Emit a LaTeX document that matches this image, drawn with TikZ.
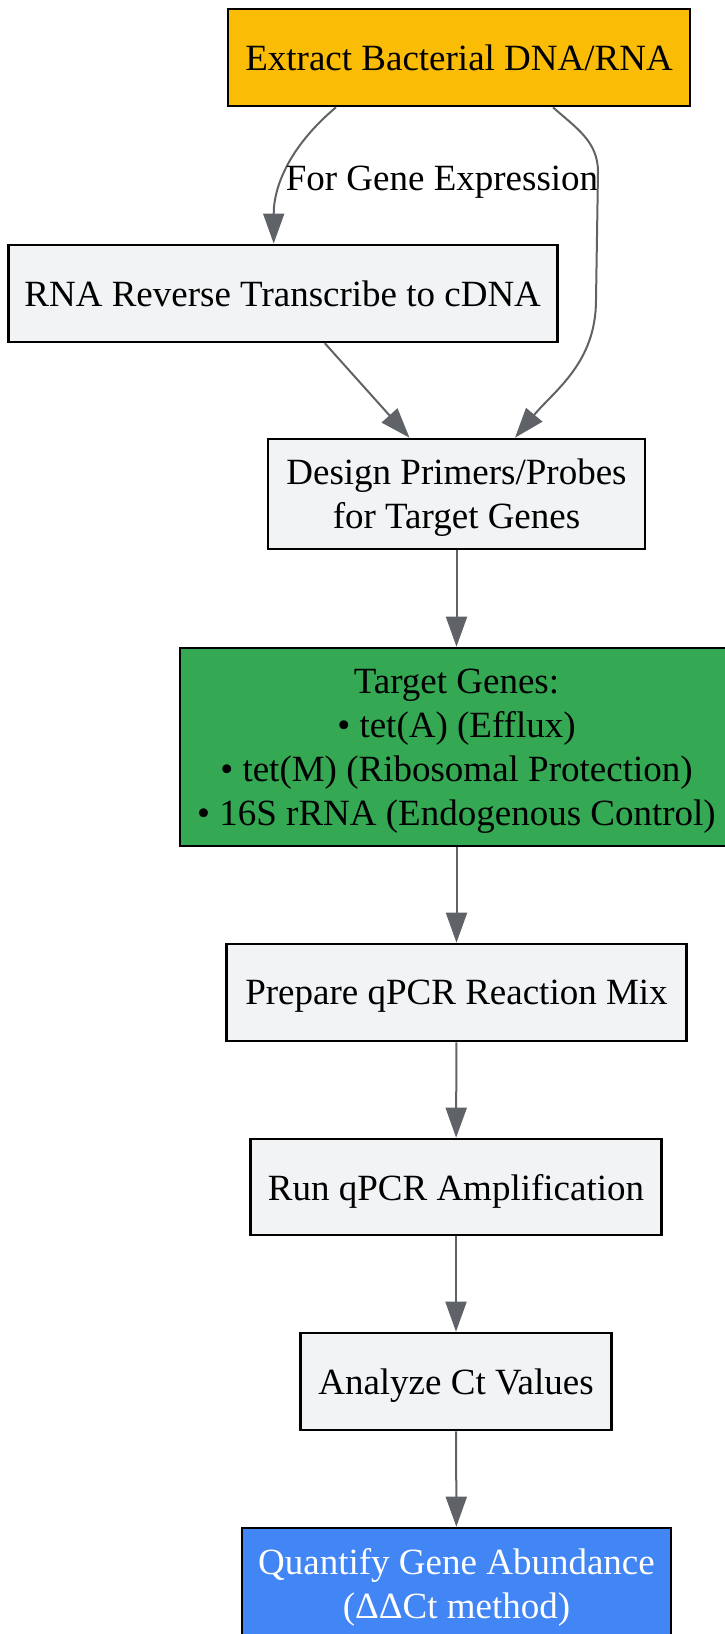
\documentclass[tikz,border=0pt]{standalone}
\usepackage{fontspec}
\setmainfont{Liberation Serif}
\usetikzlibrary{arrows.meta}
\definecolor{startyellow}{HTML}{FBBC05}
\definecolor{stepgray}{HTML}{F1F3F4}
\definecolor{genegreen}{HTML}{34A853}
\definecolor{resultblue}{HTML}{4285F4}
\definecolor{flowgray}{HTML}{5F6368}
\begin{document}
\begin{tikzpicture}[x=1pt, y=1pt, align=center,
    box/.style={draw=black, line width=2.6pt, fill=stepgray, inner sep=0pt,
        text depth=0pt, font=\fontsize{37}{44}\selectfont},
    flow/.style={draw=flowgray, line width=2pt,
        -{Triangle[length=30pt, width=21pt]}}]
    % Fix the canvas size
    \useasboundingbox (0,0) rectangle (725,-1634);

    % Boxes of the workflow
    \node[box, fill=startyellow, minimum width=462pt, minimum height=97pt] (extract) at (459,-57.5) {Extract Bacterial DNA/RNA};
    \node[box, minimum width=549pt, minimum height=97pt] (reverse) at (282.7,-293.3) {RNA Reverse Transcribe to cDNA};
    \node[box, minimum width=377pt, minimum height=110pt] (primers) at (456.5,-494) {Design Primers/Probes\\for Target Genes};
    \node[box, fill=genegreen, minimum width=553pt, minimum height=198pt] (genes) at (456.5,-747) {Target Genes:\\\textbullet{} tet(A) (Efflux)\\\textbullet{} tet(M) (Ribosomal Protection)\\\textbullet{} 16S rRNA (Endogenous Control)};
    \node[box, minimum width=460pt, minimum height=97pt] (mix) at (456.5,-992.5) {Prepare qPCR Reaction Mix};
    \node[box, minimum width=411pt, minimum height=96pt] (amplify) at (456,-1187) {Run qPCR Amplification};
    \node[box, minimum width=311pt, minimum height=97pt] (ctvalues) at (456,-1381.5) {Analyze Ct Values};
    \node[box, fill=resultblue, text=white, minimum width=429pt, minimum height=110pt] (quantify) at (456.5,-1583) {Quantify Gene Abundance\\(ΔΔCt method)};

    % Branches out of the extraction
    \coordinate (sidetop) at (598,-172);
    \coordinate (sidelow) at (596,-300);
    \draw[flow] ([xshift=-123pt]extract.south) to[out=-140, in=90] ([xshift=-9pt]reverse.north);
    \node[anchor=base, font=\fontsize{37}{44}\selectfont] (exprlabel) at (442,-190) {For Gene Expression};
    \draw[flow] ([xshift=94pt]extract.south) to[out=-42, in=90] (sidetop) -- (sidelow) to[out=-90, in=50] ([xshift=58.5pt]primers.north);
    \draw[flow] ([xshift=42pt]reverse.south) -- ([xshift=-47pt]primers.north);

    % Straight steps down
    \draw[flow] (primers) -- (genes);
    \draw[flow] (genes) -- (mix);
    \draw[flow] (mix) -- (amplify);
    \draw[flow] (amplify) -- (ctvalues);
    \draw[flow] (ctvalues) -- (quantify);
\end{tikzpicture}
\end{document}
